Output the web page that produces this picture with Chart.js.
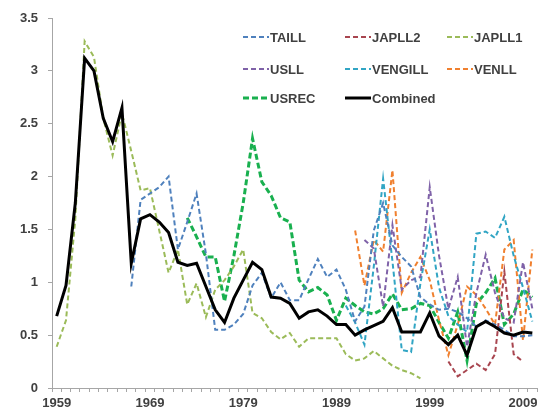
<!DOCTYPE html>
<html>
<head>
<meta charset="utf-8">
<script src="https://cdn.jsdelivr.net/npm/chart.js@4.4.1/dist/chart.umd.min.js"></script>
<style>
  html, body { margin: 0; padding: 0; background: #fff; }
  #c { display: block; }
</style>
</head>
<body>
<canvas id="c" width="543" height="417"></canvas>
<script>
// anos (categorias del eje x)
var years = [1959,1960,1961,1962,1963,1964,1965,1966,1967,1968,
             1969,1970,1971,1972,1973,1974,1975,1976,1977,1978,
             1979,1980,1981,1982,1983,1984,1985,1986,1987,1988,
             1989,1990,1991,1992,1993,1994,1995,1996,1997,1998,
             1999,2000,2001,2002,2003,2004,2005,2006,2007,2008,
             2009,2010];
var yTicks = [0, 0.5, 1, 1.5, 2, 2.5, 3, 3.5];
var xLabelYears = [1959, 1969, 1979, 1989, 1999, 2009];

// series
var taill = [null,null,null,null,null,null,null,null,0.96,1.78,
             1.84,1.90,2.00,1.31,1.57,1.84,1.27,0.55,0.55,0.60,
             0.70,0.97,1.09,0.85,1.00,0.83,0.83,1.03,1.22,1.05,
             1.12,0.93,0.63,0.77,1.49,1.75,1.35,1.24,1.15,0.86,
             0.79,0.74,0.75,0.72,0.66,0.58,0.64,0.60,0.55,0.49,
             0.49,0.50];
var japll2 = [null,null,null,null,null,null,null,null,null,null,
              null,null,null,null,null,null,null,null,null,null,
              null,null,null,null,null,null,null,null,null,null,
              null,null,null,null,null,null,null,null,null,null,
              null,null,0.25,0.11,0.17,0.23,0.17,0.32,1.10,0.32,
              0.25,null];
var japll1 = [0.39,0.64,1.60,3.28,3.13,2.55,2.20,2.60,2.24,1.87,
              1.89,1.49,1.09,1.31,0.79,0.99,0.67,0.93,1.02,1.15,
              1.31,0.71,0.66,0.53,0.46,0.52,0.39,0.47,0.47,0.47,
              0.47,0.32,0.26,0.28,0.35,0.28,0.21,0.17,0.14,0.09,
              null,null,null,null,null,null,null,null,null,null,
              null,null];
var usll = [null,null,null,null,null,null,null,null,null,null,
            null,null,null,null,null,null,null,null,null,null,
            null,null,null,null,null,null,null,null,null,null,
            null,null,null,1.40,1.32,0.77,1.54,0.93,1.02,1.05,
            1.90,1.25,0.75,1.05,0.39,0.90,1.26,0.90,0.66,0.62,
            1.19,0.75];
var vengill = [null,null,null,null,null,null,null,null,null,null,
               null,null,null,null,null,null,null,null,null,null,
               null,null,null,null,null,null,null,null,null,null,
               null,0.78,0.62,0.41,1.15,1.98,1.20,0.36,0.34,0.99,
               1.50,0.95,0.68,0.60,0.53,1.46,1.48,1.42,1.62,1.25,
               0.95,0.63];
var venll = [null,null,null,null,null,null,null,null,null,null,
             null,null,null,null,null,null,null,null,null,null,
             null,null,null,null,null,null,null,null,null,null,
             null,null,1.49,0.97,1.40,1.29,2.06,0.90,1.09,1.24,
             1.02,0.64,0.31,0.60,0.96,0.88,0.75,0.60,1.31,1.40,
             0.45,1.31];
var usrec = [null,null,null,null,null,null,null,null,null,null,
             null,null,null,null,1.61,1.43,1.24,1.24,0.82,1.25,
             1.75,2.36,1.95,1.82,1.61,1.57,1.02,0.91,0.95,0.88,
             0.64,0.85,0.78,0.72,0.70,0.75,0.89,0.74,0.75,0.80,
             0.78,0.62,0.47,0.72,0.26,0.80,0.90,1.04,0.60,0.70,
             0.93,0.86];
var combined = [0.68,0.97,1.75,3.12,3.00,2.55,2.33,2.65,1.18,1.60,
                1.64,1.57,1.47,1.19,1.16,1.18,0.96,0.74,0.62,0.85,
                1.02,1.19,1.12,0.86,0.85,0.80,0.66,0.72,0.74,0.68,
                0.60,0.60,0.50,0.55,0.59,0.63,0.76,0.53,0.53,0.53,
                0.71,0.49,0.41,0.50,0.31,0.58,0.63,0.58,0.52,0.50,
                0.53,0.52];

var FONT = '"Liberation Sans", Arial, sans-serif';
var TXT = '#404040';
var AXIS = '#a6a6a6';

function serie(label, data, color, width, dash, order) {
  return {
    label: label, data: data,
    borderColor: color, backgroundColor: color,
    borderWidth: width, borderDash: dash,
    pointRadius: 0, pointHoverRadius: 0,
    tension: 0, fill: false, spanGaps: false,
    order: order
  };
}

// leyenda en 3 columnas dentro del area del grafico
var gridLegend = {
  id: 'gridLegend',
  afterDraw: function(chart) {
    var ctx = chart.ctx;
    var cols = [243, 345, 447];
    var rows = [37, 69, 98];
    ctx.save();
    ctx.font = 'bold 13px ' + FONT;
    ctx.textBaseline = 'middle';
    chart.data.datasets.forEach(function(ds, i) {
      var x = cols[i % 3], y = rows[Math.floor(i / 3)];
      ctx.beginPath();
      ctx.strokeStyle = ds.borderColor;
      ctx.lineWidth = ds.borderWidth;
      ctx.setLineDash(ds.borderDash || []);
      ctx.moveTo(x, y);
      ctx.lineTo(x + 26, y);
      ctx.stroke();
      ctx.setLineDash([]);
      ctx.fillStyle = TXT;
      ctx.fillText(ds.label, x + 27, y + 1);
    });
    ctx.restore();
  }
};

new Chart(document.getElementById('c'), {
  type: 'line',
  data: {
    labels: years,
    datasets: [
      serie('TAILL', taill, '#4F81BD', 2, [5, 3], 1),
      serie('JAPLL2', japll2, '#A8454F', 2, [5, 3], 1),
      serie('JAPLL1', japll1, '#9BBB59', 2, [5, 3], 1),
      serie('USLL', usll, '#7F62A8', 2, [5, 3], 1),
      serie('VENGILL', vengill, '#31A5C4', 2, [5, 3], 1),
      serie('VENLL', venll, '#F0802F', 2, [5, 3], 1),
      serie('USREC', usrec, '#19B04F', 3, [6, 3], 1),
      serie('Combined', combined, '#000000', 3, [], 0)
    ]
  },
  options: {
    responsive: false,
    animation: false,
    devicePixelRatio: 1,
    layout: { padding: { top: 18, right: 6, left: 0, bottom: 0 } },
    plugins: { legend: { display: false }, tooltip: { enabled: false } },
    scales: {
      x: {
        type: 'category',
        offset: true,
        grid: { offset: true, drawOnChartArea: false, drawTicks: true, tickLength: 4, color: AXIS },
        border: { display: true, color: AXIS, width: 1 },
        ticks: {
          autoSkip: false, maxRotation: 0, minRotation: 0, padding: 4,
          color: TXT, font: { family: FONT, size: 13, weight: 'bold' },
          callback: function(v, i) {
            var y = years[i];
            return xLabelYears.indexOf(y) >= 0 ? String(y) : '';
          }
        },
        afterFit: function(s) { s.height = 29; }
      },
      y: {
        min: 0, max: 3.5,
        afterBuildTicks: function(s) { s.ticks = yTicks.map(function(v) { return { value: v }; }); },
        grid: { drawOnChartArea: false, drawTicks: true, tickLength: 4, color: AXIS },
        border: { display: true, color: AXIS, width: 1 },
        ticks: {
          padding: 10, color: TXT,
          font: { family: FONT, size: 13, weight: 'bold' },
          callback: function(v) { return String(v); }
        },
        afterFit: function(s) { s.width = 52; }
      }
    }
  },
  plugins: [gridLegend]
});
</script>
</body>
</html>
